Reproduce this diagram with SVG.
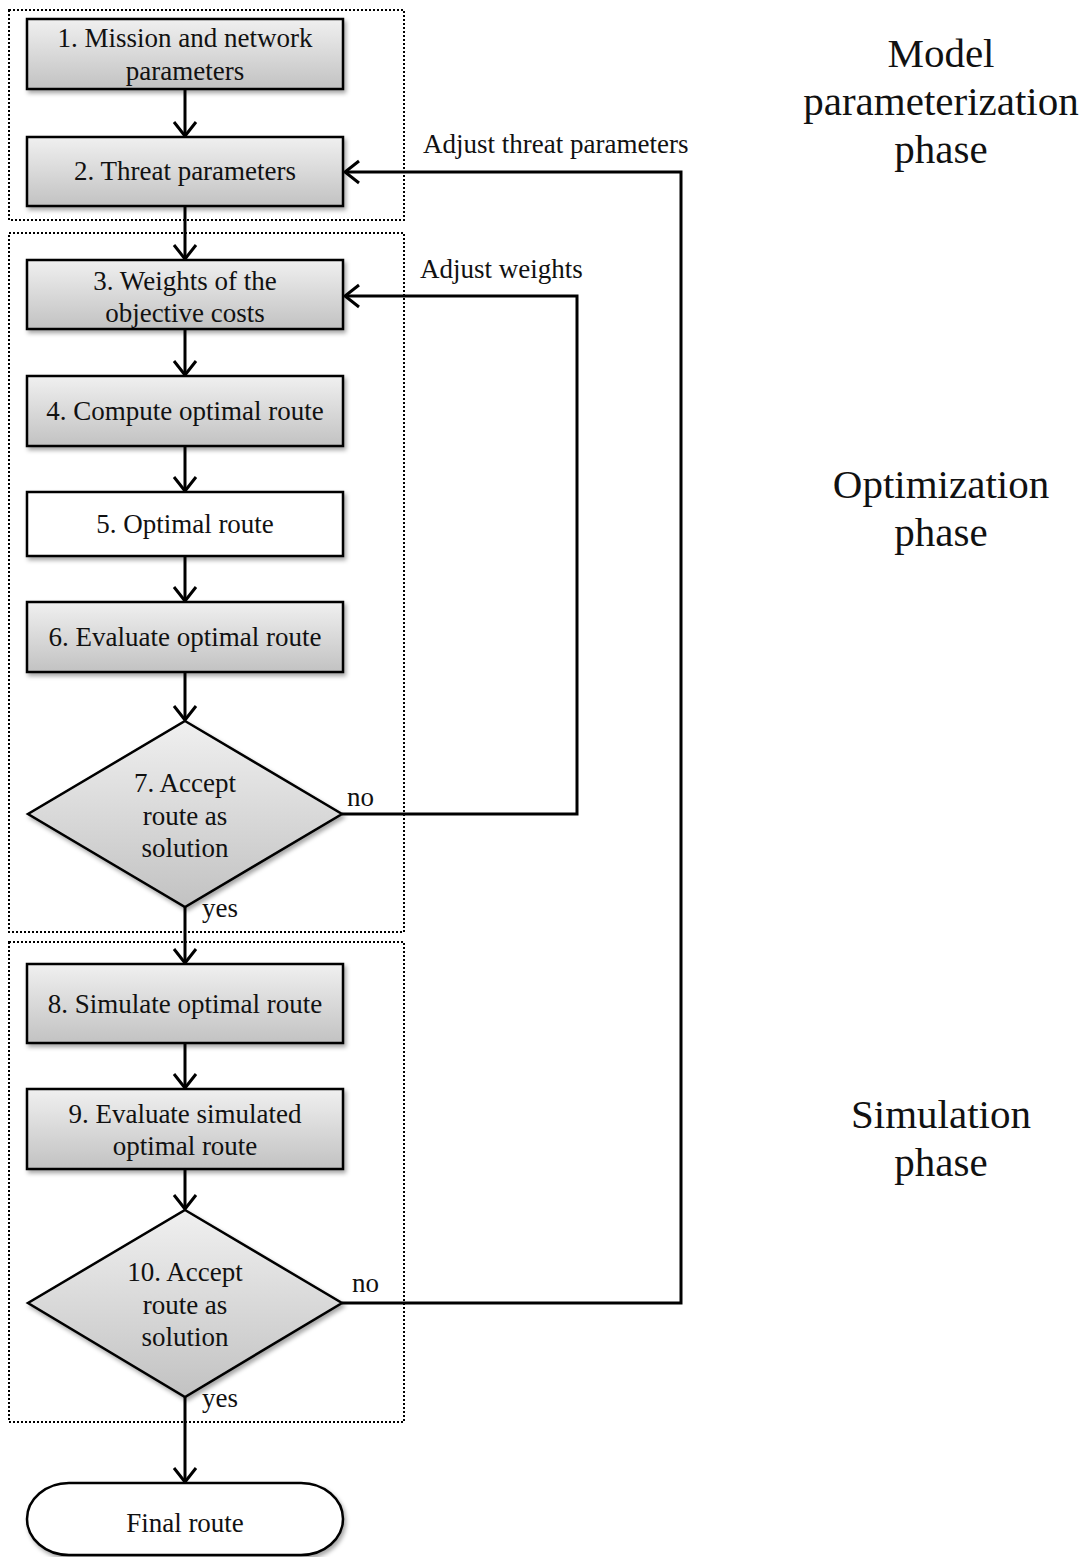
<svg xmlns="http://www.w3.org/2000/svg" width="1086" height="1557" viewBox="0 0 1086 1557">
<defs>
<linearGradient id="g" x1="0" y1="0" x2="0" y2="1">
<stop offset="0" stop-color="#f0f0f0"/>
<stop offset="1" stop-color="#c2c2c2"/>
</linearGradient>
<filter id="sh" x="-10%" y="-10%" width="125%" height="130%">
<feDropShadow dx="2" dy="3" stdDeviation="2" flood-color="#000" flood-opacity="0.35"/>
</filter>
<marker id="ah" markerWidth="24" markerHeight="26" viewBox="-16 -13 18 26" refX="0" refY="0" orient="auto" markerUnits="userSpaceOnUse">
<polyline points="-14,-11 0,0 -14,11" fill="none" stroke="#000" stroke-width="3"/>
</marker>
</defs>
<style>
.n{fill:url(#g);stroke:#000;stroke-width:2.5;filter:url(#sh)}
.w{fill:#fff;stroke:#000;stroke-width:2.5;filter:url(#sh)}
.t{font-family:"Liberation Serif","Times New Roman",serif;font-size:27px;fill:#111;text-anchor:middle}
.l{font-family:"Liberation Serif","Times New Roman",serif;font-size:27px;fill:#111}
.p{font-family:"Liberation Serif","Times New Roman",serif;font-size:41px;fill:#111;text-anchor:middle}
.c{fill:none;stroke:#000;stroke-width:3;marker-end:url(#ah)}
.d{fill:none;stroke:#000;stroke-width:2;stroke-dasharray:2 2}
</style>
<g id="phases">
<rect class="d" x="9" y="10" width="395" height="210"/>
<rect class="d" x="9" y="233" width="395" height="699"/>
<rect class="d" x="9" y="942" width="395" height="480"/>
<text class="p" x="941" y="67">Model</text>
<text class="p" x="941" y="115">parameterization</text>
<text class="p" x="941" y="163">phase</text>
<text class="p" x="941" y="498">Optimization</text>
<text class="p" x="941" y="546">phase</text>
<text class="p" x="941" y="1128">Simulation</text>
<text class="p" x="941" y="1176">phase</text>
</g>
<g id="connectors">
<line class="c" x1="185" y1="89" x2="185" y2="136"/>
<line class="c" x1="185" y1="206" x2="185" y2="259"/>
<line class="c" x1="185" y1="329" x2="185" y2="375"/>
<line class="c" x1="185" y1="446" x2="185" y2="491"/>
<line class="c" x1="185" y1="556" x2="185" y2="601"/>
<line class="c" x1="185" y1="672" x2="185" y2="720"/>
<line class="c" x1="185" y1="907" x2="185" y2="963"/>
<line class="c" x1="185" y1="1043" x2="185" y2="1088"/>
<line class="c" x1="185" y1="1169" x2="185" y2="1209"/>
<line class="c" x1="185" y1="1397" x2="185" y2="1482"/>
<polyline class="c" points="342,814 577,814 577,296 345,296"/>
<polyline class="c" points="342,1303 681,1303 681,172 345,172"/>
<text class="l" x="347" y="806">no</text>
<text class="l" x="202" y="917">yes</text>
<text class="l" x="352" y="1292">no</text>
<text class="l" x="202" y="1407">yes</text>
<text class="l" x="423" y="153">Adjust threat parameters</text>
<text class="l" x="420" y="278">Adjust weights</text>
</g>
<g id="n1"><rect class="n" x="27" y="19" width="316" height="70"/>
<text class="t" x="185" y="47">1. Mission and network</text><text class="t" x="185" y="80">parameters</text></g>
<g id="n2"><rect class="n" x="27" y="137" width="316" height="69"/>
<text class="t" x="185" y="180">2. Threat parameters</text></g>
<g id="n3"><rect class="n" x="27" y="260" width="316" height="69"/>
<text class="t" x="185" y="290">3. Weights of the</text><text class="t" x="185" y="322">objective costs</text></g>
<g id="n4"><rect class="n" x="27" y="376" width="316" height="70"/>
<text class="t" x="185" y="420">4. Compute optimal route</text></g>
<g id="n5"><rect class="w" x="27" y="492" width="316" height="64"/>
<text class="t" x="185" y="533">5. Optimal route</text></g>
<g id="n6"><rect class="n" x="27" y="602" width="316" height="70"/>
<text class="t" x="185" y="646">6. Evaluate optimal route</text></g>
<g id="n7"><polygon class="n" points="185,721 342,814 185,907 28,814"/>
<text class="t" x="185" y="792">7. Accept</text><text class="t" x="185" y="825">route as</text><text class="t" x="185" y="857">solution</text></g>
<g id="n8"><rect class="n" x="27" y="964" width="316" height="79"/>
<text class="t" x="185" y="1013">8. Simulate optimal route</text></g>
<g id="n9"><rect class="n" x="27" y="1089" width="316" height="80"/>
<text class="t" x="185" y="1123">9. Evaluate simulated</text><text class="t" x="185" y="1155">optimal route</text></g>
<g id="n10"><polygon class="n" points="185,1210 342,1303 185,1397 28,1303"/>
<text class="t" x="185" y="1281">10. Accept</text><text class="t" x="185" y="1314">route as</text><text class="t" x="185" y="1346">solution</text></g>
<g id="n11"><rect class="w" x="27" y="1483" width="316" height="72" rx="42" ry="36"/>
<text class="t" x="185" y="1532">Final route</text></g>
</svg>
